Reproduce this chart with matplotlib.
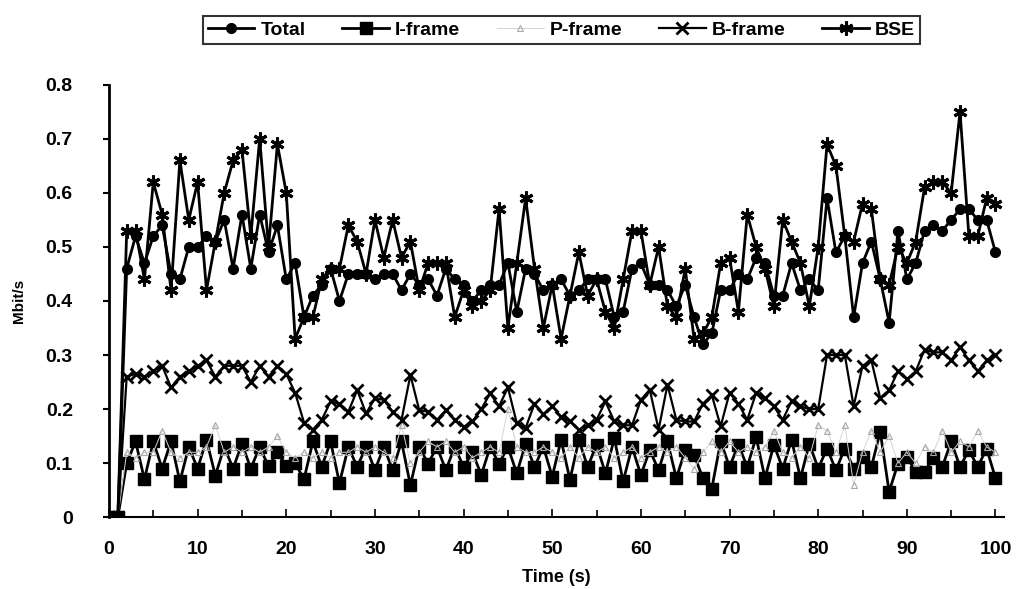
import matplotlib
matplotlib.use('Agg')
import matplotlib.pyplot as plt
import numpy as np

# time axis (s)
time = list(range(0, 101))

# Mbit/s per second
total = [0, 0, 0.46, 0.52, 0.47, 0.52, 0.54, 0.45, 0.44, 0.50,
         0.50, 0.52, 0.51, 0.55, 0.46, 0.56, 0.46, 0.56, 0.49, 0.54,
         0.44, 0.47, 0.37, 0.41, 0.43, 0.46, 0.40, 0.45, 0.45, 0.45,
         0.44, 0.45, 0.45, 0.42, 0.45, 0.43, 0.44, 0.41, 0.46, 0.44,
         0.43, 0.40, 0.42, 0.43, 0.43, 0.47, 0.38, 0.46, 0.45, 0.42,
         0.43, 0.44, 0.41, 0.42, 0.44, 0.44, 0.44, 0.37, 0.38, 0.46,
         0.47, 0.43, 0.43, 0.42, 0.39, 0.43, 0.37, 0.32, 0.34, 0.42,
         0.42, 0.45, 0.44, 0.48, 0.47, 0.41, 0.41, 0.47, 0.42, 0.44,
         0.42, 0.59, 0.49, 0.52, 0.37, 0.47, 0.51, 0.44, 0.36, 0.53,
         0.44, 0.47, 0.53, 0.54, 0.53, 0.55, 0.57, 0.57, 0.55, 0.55,
         0.49]

i_frame = [0, 0, 0.10, 0.14, 0.07, 0.14, 0.09, 0.14, 0.066, 0.13,
           0.09, 0.143, 0.077, 0.13, 0.09, 0.136, 0.09, 0.13, 0.094, 0.12,
           0.094, 0.10, 0.07, 0.14, 0.093, 0.14, 0.063, 0.13, 0.093, 0.13,
           0.087, 0.13, 0.087, 0.14, 0.059, 0.13, 0.099, 0.13, 0.087, 0.13,
           0.093, 0.12, 0.078, 0.13, 0.099, 0.13, 0.081, 0.136, 0.093, 0.13,
           0.075, 0.143, 0.069, 0.143, 0.093, 0.134, 0.081, 0.146, 0.066, 0.13,
           0.078, 0.124, 0.087, 0.14, 0.072, 0.124, 0.115, 0.072, 0.053, 0.14,
           0.093, 0.134, 0.093, 0.148, 0.072, 0.134, 0.09, 0.143, 0.072, 0.136,
           0.09, 0.127, 0.087, 0.127, 0.09, 0.112, 0.093, 0.158, 0.047, 0.099,
           0.112, 0.084, 0.084, 0.11, 0.093, 0.14, 0.093, 0.124, 0.093, 0.127,
           0.072]

p_frame = [0, 0, 0.12, 0.11, 0.12, 0.12, 0.16, 0.12, 0.11, 0.12,
           0.12, 0.13, 0.17, 0.12, 0.13, 0.12, 0.13, 0.12, 0.13, 0.15,
           0.12, 0.11, 0.12, 0.11, 0.12, 0.11, 0.12, 0.12, 0.13, 0.12,
           0.13, 0.12, 0.11, 0.17, 0.10, 0.12, 0.14, 0.13, 0.14, 0.12,
           0.13, 0.11, 0.12, 0.13, 0.12, 0.20, 0.13, 0.12, 0.12, 0.13,
           0.12, 0.11, 0.13, 0.11, 0.13, 0.12, 0.13, 0.11, 0.12, 0.13,
           0.11, 0.12, 0.13, 0.12, 0.13, 0.11, 0.09, 0.12, 0.14, 0.12,
           0.14, 0.12, 0.13, 0.12, 0.13, 0.16, 0.12, 0.11, 0.13, 0.11,
           0.17, 0.16, 0.12, 0.17, 0.06, 0.12, 0.16, 0.12, 0.15, 0.10,
           0.12, 0.10, 0.13, 0.12, 0.16, 0.12, 0.14, 0.13, 0.16, 0.13,
           0.12]

b_frame = [0, 0, 0.26, 0.265, 0.26, 0.27, 0.28, 0.24, 0.26, 0.27,
           0.28, 0.29, 0.26, 0.28, 0.28, 0.28, 0.25, 0.28, 0.26, 0.28,
           0.265, 0.23, 0.175, 0.162, 0.18, 0.214, 0.21, 0.195, 0.235, 0.192,
           0.22, 0.217, 0.195, 0.18, 0.263, 0.198, 0.195, 0.18, 0.198, 0.18,
           0.167, 0.177, 0.20, 0.229, 0.205, 0.24, 0.174, 0.165, 0.21, 0.19,
           0.205, 0.186, 0.177, 0.162, 0.17, 0.18, 0.214, 0.177, 0.17, 0.17,
           0.217, 0.236, 0.162, 0.245, 0.18, 0.177, 0.177, 0.21, 0.226, 0.168,
           0.23, 0.21, 0.18, 0.23, 0.22, 0.205, 0.18, 0.215, 0.205, 0.20,
           0.20, 0.30, 0.30, 0.30, 0.205, 0.28, 0.29, 0.22, 0.235, 0.27,
           0.255, 0.27, 0.31, 0.305, 0.305, 0.29, 0.315, 0.29, 0.27, 0.29,
           0.30]

bse = [0, 0, 0.53, 0.53, 0.44, 0.62, 0.56, 0.42, 0.66, 0.55,
       0.62, 0.42, 0.51, 0.60, 0.66, 0.68, 0.52, 0.70, 0.50, 0.69,
       0.60, 0.33, 0.37, 0.37, 0.44, 0.46, 0.46, 0.54, 0.51, 0.45,
       0.55, 0.48, 0.55, 0.48, 0.51, 0.42, 0.47, 0.47, 0.47, 0.37,
       0.42, 0.39, 0.40, 0.42, 0.57, 0.35, 0.47, 0.59, 0.46, 0.35,
       0.43, 0.33, 0.41, 0.49, 0.41, 0.44, 0.38, 0.35, 0.44, 0.53,
       0.53, 0.43, 0.50, 0.39, 0.37, 0.46, 0.33, 0.34, 0.37, 0.47,
       0.48, 0.38, 0.56, 0.50, 0.46, 0.39, 0.55, 0.51, 0.47, 0.39,
       0.50, 0.69, 0.65, 0.52, 0.51, 0.58, 0.57, 0.44, 0.43, 0.50,
       0.47, 0.51, 0.61, 0.62, 0.62, 0.60, 0.75, 0.52, 0.52, 0.59,
       0.58]

plt.rcParams['font.family'] = ['Liberation Sans', 'DejaVu Sans']
plt.rcParams['font.weight'] = 'bold'

fig = plt.figure(figsize=(10.28, 5.89), dpi=100)
ax = fig.add_axes([0.106, 0.122, 0.871, 0.734])

ax.plot(time, total, color='black', lw=2, marker='o', ms=7, label='Total')
ax.plot(time, i_frame, color='black', lw=2, marker='s', ms=8, label='I-frame')
ax.plot(time, p_frame, color='#d4d4d4', lw=0.7, marker='^', ms=4,
        mfc='none', mec='#a8a8a8', mew=0.8, label='P-frame')
ax.plot(time, b_frame, color='black', lw=1.6, marker='x', ms=8, mew=2,
        label='B-frame')
ax.plot(time, bse, color='black', lw=2, marker=(6, 2, 0), ms=10, mew=2.2,
        label='BSE')

ax.set_xlim(0, 101)
ax.set_ylim(0, 0.8)
ax.set_xticks(np.arange(0, 101, 10))
ax.set_xticks(np.arange(0, 101, 5), minor=True)
ax.set_yticks(np.arange(0, 0.81, 0.1))
ax.set_yticklabels(['0', '0.1', '0.2', '0.3', '0.4', '0.5', '0.6', '0.7', '0.8'])
ax.tick_params(axis='x', direction='in', length=6, width=1.2, labelsize=14, pad=17)
ax.tick_params(axis='x', which='minor', direction='in', length=5, width=1.2)
ax.tick_params(axis='y', direction='out', length=4, width=1.5, labelsize=14, pad=22)

for side in ['top', 'right']:
    ax.spines[side].set_visible(False)
ax.spines['left'].set_linewidth(2)
ax.spines['bottom'].set_linewidth(1.5)

ax.set_xlabel('Time (s)', fontsize=13, fontweight='bold', labelpad=8)
ax.set_ylabel('Mbit/s', fontsize=11, fontweight='bold', labelpad=14)

leg = fig.legend(loc='center', bbox_to_anchor=(0.546, 0.949), ncol=5,
                 fontsize=14, frameon=True, fancybox=False, handlelength=2.4,
                 handletextpad=0.3, columnspacing=1.9, borderpad=0.25)
leg.get_frame().set_edgecolor('black')
leg.get_frame().set_linewidth(1.5)

fig.savefig('out.png', dpi=100)
